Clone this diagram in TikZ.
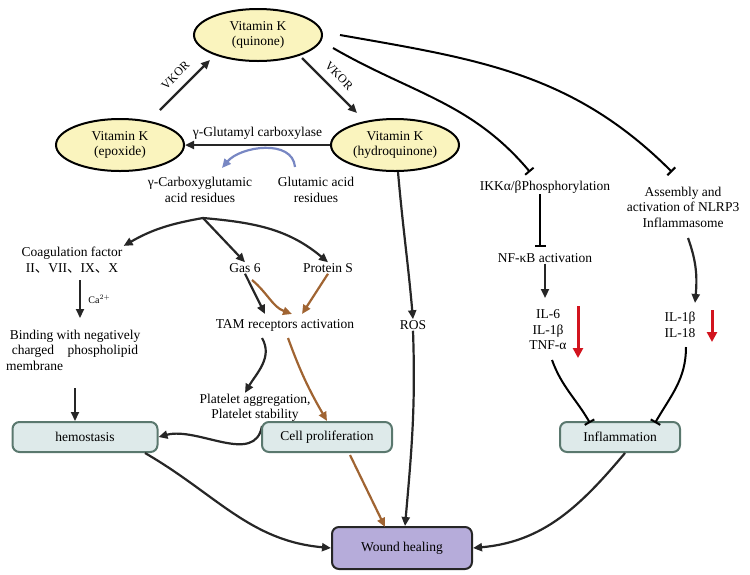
\documentclass[tikz,border=0pt]{standalone}
\usepackage{fontspec}
\setmainfont{Liberation Serif}
\newfontfamily\cjk{Noto Sans CJK SC}
\usetikzlibrary{shapes.geometric,arrows.meta}
\definecolor{ell}{RGB}{250,244,190}
\definecolor{boxf}{RGB}{222,234,234}
\definecolor{boxd}{RGB}{90,120,110}
\definecolor{brn}{RGB}{160,100,50}
\definecolor{blu}{RGB}{120,135,195}
\definecolor{lav}{RGB}{182,172,218}
\definecolor{rd}{RGB}{210,20,30}
\newcommand{\dn}{{\cjk 、}}
\begin{document}
\begin{tikzpicture}[x=1pt,y=-1pt,font=\fontsize{13.5}{15.5}\selectfont,
 vk/.style={ellipse,draw,line width=2pt,fill=ell,minimum width=128pt,minimum height=52pt,align=center,inner sep=1pt},
 bx/.style={rectangle,rounded corners=7pt,draw=boxd,line width=2pt,fill=boxf,minimum height=30pt,inner sep=3pt},
 t/.style={align=center,inner sep=1pt},
 ar/.style={-{Triangle[length=9pt,width=8pt]},line width=2.2pt,draw=black!85},
 br/.style={-{Triangle[length=9pt,width=8pt]},line width=2.2pt,draw=brn},
 inh/.style={-{Bar[width=11pt]},line width=2pt}]
\useasboundingbox (0,0) rectangle (750,574);
\node[vk] (q) at (258,35) {Vitamin K\\(quinone)};
\node[vk] (e) at (120,145) {Vitamin K\\(epoxide)};
\node[vk] (h) at (395,145) {Vitamin K\\(hydroquinone)};
\draw[ar] (160,110) -- node[sloped,above=5pt,font=\fontsize{12}{14}\selectfont] (v1) {VKOR} (210,60);
\draw[ar] (302,58) -- node[sloped,above=5pt,font=\fontsize{12}{14}\selectfont] (v2) {VKOR} (357,113);
\draw[ar] (h.west) -- node[above=1pt] (gc) {γ-Glutamyl carboxylase} (e.east);
\node[t] (gcr) at (200,190) {γ-Carboxyglutamic\\acid residues};
\node[t] (ga) at (316,190) {Glutamic acid\\residues};
\draw[-{Triangle[length=9pt,width=8pt]},line width=2.2pt,blu] (295,167) to[out=95,in=50] (222,168);
\coordinate (sp) at (203,218);
\node[t] (cf) at (72,260) {Coagulation factor\\II\dn VII\dn IX\dn X};
\node[t] (g6) at (245,268) {Gas 6};
\node[t] (ps) at (328,268) {Protein S};
\draw[ar] (sp) to[out=190,in=30] (cf.north east);
\draw[ar] (sp) -- (g6.north);
\draw[ar] (sp) to[out=-5,in=140] (ps.north);
\node[t] (bind) at (75,350) {Binding with negatively\\charged\quad phospholipid\\membrane\hspace*{6em}};
\draw[ar] (80,280) -- node[right=4pt,font=\fontsize{10}{12}\selectfont] (ca) {Ca$^{2+}$} (80,318);
\node[bx,minimum width=145pt] (hem) at (85,437) {hemostasis};
\draw[ar] (75,388) -- (hem.north -| 75,0);
\node[t] (tam) at (285,325) {TAM receptors activation};
\draw[ar] (g6.south) -- (265,314);
\draw[br] (252,280) to[out=-40,in=160] (292,314);
\draw[br] (ps.south) -- (302,314);
\node[t] (pl) at (255,408) {Platelet aggregation,\\Platelet stability};
\draw[ar] (262,338) to[out=-60,in=60] (pl.north -| 245,0);
\draw[ar] (262,426) to[out=-100,in=15] (hem.east);
\node[bx,minimum width=130pt] (cp) at (327,437) {Cell proliferation};
\draw[br] (288,338) to[out=-70,in=120] (cp.north);
\node[t] (ros) at (413,325) {ROS};
\draw[ar] (h.south) ++(3,0) to[out=-85,in=95] (ros.north);
\node[bx,fill=lav,draw=black!85,minimum width=140pt,minimum height=42pt] (wh) at (402,548) {Wound healing};
\draw[ar] (ros.south) to[out=-88,in=85] (wh.north -| 405,0);
\node[t] (ikk) at (545,187) {IKKα/βPhosphorylation};
\node[t] (nlrp) at (683,207) {Assembly and\\activation of NLRP3\\Inflammasome};
\draw[inh] (333,48) to[out=-30,in=130] (530,172);
\draw[inh] (340,35) to[out=-10,in=135] (672,172);
\node[t] (nf) at (545,258) {NF-κB activation};
\draw[inh] (ikk.south -| 540,0) -- (540,247);
\node[t] (il6) at (548,330) {IL-6\\IL-1β\\TNF-α};
\draw[ar] (nf.south -| 545,0) -- (545,298);
\node[t] (il1) at (680,325) {IL-1β\\IL-18};
\draw[ar] (688,238) to[out=-70,in=85] (695,303);
\draw[-{Triangle[length=10pt,width=10pt]},line width=3pt,rd] (578,306) -- (578,358);
\draw[-{Triangle[length=10pt,width=10pt]},line width=3pt,rd] (712,310) -- (712,342);
\node[bx,minimum width=120pt] (inf) at (620,437) {Inflammation};
\draw[inh] (552,360) to[out=-70,in=120] (590,423);
\draw[inh] (686,347) to[out=-90,in=60] (655,423);
\draw[ar] (hem.south -| 145,0) to[out=-30,in=175] (wh.west);
\draw[br] (350,455) -- (385,527);
\draw[ar] (inf.south -| 625,0) to[out=-130,in=5] (wh.east);
\end{tikzpicture}
\end{document}
